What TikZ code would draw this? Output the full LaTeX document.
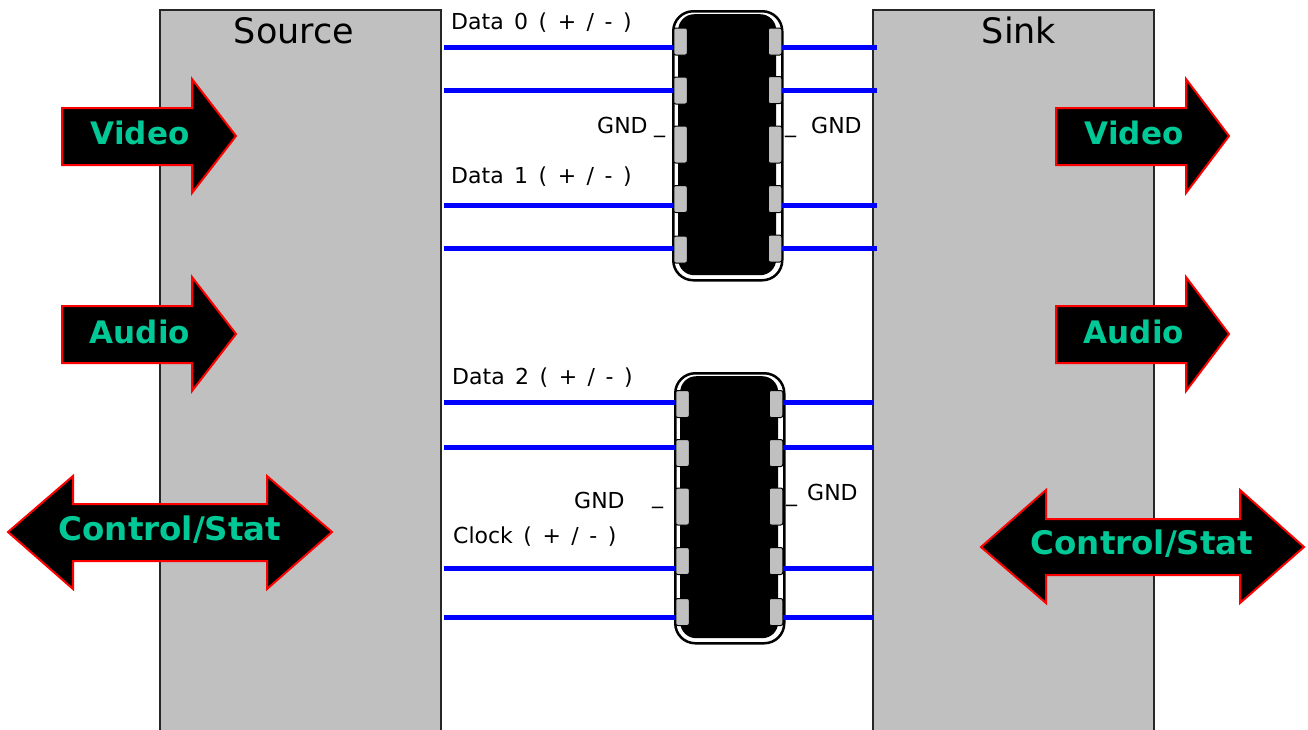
\documentclass[tikz,border=0pt]{standalone}
\usepackage{fontspec}
\setmainfont{DejaVu Sans}[WordSpace=1.5]
\definecolor{boxgray}{RGB}{192,192,192}
\definecolor{wireblue}{RGB}{0,0,255}
\definecolor{lblgreen}{RGB}{0,200,150}
\tikzset{
  sidebox/.style={draw=black!85, line width=1.5pt, fill=boxgray, anchor=north west, inner sep=0pt},
  chipouter/.style={draw=black, line width=2.5pt, fill=white, rounded corners=20pt, anchor=north west, inner sep=0pt},
  chipinner/.style={fill=black, rounded corners=16pt, anchor=north west, inner sep=0pt},
  pinbox/.style={draw=black, line width=1pt, fill=boxgray, rounded corners=2pt, minimum width=13.5pt, inner sep=0pt},
  wire/.style={draw=wireblue, line width=5pt},
  bigarrow/.style={fill=black, draw=red, line width=2pt, line join=miter},
  arrowtext/.style={text=lblgreen, font=\bfseries\fontsize{31}{36}\selectfont, inner sep=0pt},
  sigtext/.style={font=\fontsize{22}{26}\selectfont, anchor=base west, inner sep=0pt},
  titletext/.style={font=\fontsize{35}{40}\selectfont, anchor=base, inner sep=0pt},
}
\begin{document}
\begin{tikzpicture}[x=1pt,y=-1pt]
\useasboundingbox (0,0) rectangle (1308,729);
\clip (0,0) rectangle (1308,729);
\fill[white] (0,0) rectangle (1308,729);

% side boxes
\node[sidebox, minimum width=281pt, minimum height=760pt] (src) at (159,9) {};
\node[sidebox, minimum width=281pt, minimum height=760pt] (snk) at (872,9) {};
\node[titletext] (srctitle) at (294,43) {Source};
\node[titletext] (snktitle) at (1019,43) {Sink};

% chips
\node[chipouter, minimum width=109pt, minimum height=269pt] (chipA) at (672,10) {};
\node[chipinner, minimum width=98pt, minimum height=261pt] (chipAin) at (678,14) {};
\node[chipouter, minimum width=109pt, minimum height=270pt] (chipB) at (674,372) {};
\node[chipinner, minimum width=98pt, minimum height=262pt] (chipBin) at (680,376) {};

% wire end coordinates
\foreach \n/\y in {1/47,2/90,3/205,4/248}{
  \coordinate (aL\n) at (444,\y);
  \coordinate (aR\n) at (877,\y);
}
\foreach \n/\y in {1/402,2/447,3/568,4/617}{
  \coordinate (bL\n) at (444,\y);
  \coordinate (bR\n) at (874,\y);
}

% pins chip A
\node[pinbox, minimum height=27pt] (pAL1) at (680.5,41.5) {};
\node[pinbox, minimum height=27pt] (pAL2) at (680.5,90.5) {};
\node[pinbox, minimum height=37pt] (pAL3) at (680.5,144.5) {};
\node[pinbox, minimum height=27pt] (pAL4) at (680.5,199) {};
\node[pinbox, minimum height=27pt] (pAL5) at (680.5,249.5) {};
\node[pinbox, minimum height=27pt] (pAR1) at (775,41.5) {};
\node[pinbox, minimum height=27pt] (pAR2) at (775,90) {};
\node[pinbox, minimum height=37pt] (pAR3) at (775,144.5) {};
\node[pinbox, minimum height=27pt] (pAR4) at (775,199) {};
\node[pinbox, minimum height=27pt] (pAR5) at (775,248.5) {};
% pins chip B
\node[pinbox, minimum height=27pt] (pBL1) at (682.5,404) {};
\node[pinbox, minimum height=27pt] (pBL2) at (682.5,453) {};
\node[pinbox, minimum height=37pt] (pBL3) at (682.5,506.5) {};
\node[pinbox, minimum height=27pt] (pBL4) at (682.5,561) {};
\node[pinbox, minimum height=27pt] (pBL5) at (682.5,612) {};
\node[pinbox, minimum height=27pt] (pBR1) at (776,404) {};
\node[pinbox, minimum height=27pt] (pBR2) at (776,453) {};
\node[pinbox, minimum height=37pt] (pBR3) at (776,506.5) {};
\node[pinbox, minimum height=27pt] (pBR4) at (776,561) {};
\node[pinbox, minimum height=27pt] (pBR5) at (776,612) {};

% wires
\draw[wire] (aL1) -- (aL1 -| pAL1.west);
\draw[wire] (aL2) -- (aL2 -| pAL2.west);
\draw[wire] (aL3) -- (aL3 -| pAL4.west);
\draw[wire] (aL4) -- (aL4 -| pAL5.west);
\draw[wire] (aR1 -| pAR1.east) -- (aR1);
\draw[wire] (aR2 -| pAR2.east) -- (aR2);
\draw[wire] (aR3 -| pAR4.east) -- (aR3);
\draw[wire] (aR4 -| pAR5.east) -- (aR4);
\draw[wire] (bL1) -- (bL1 -| pBL1.west);
\draw[wire] (bL2) -- (bL2 -| pBL2.west);
\draw[wire] (bL3) -- (bL3 -| pBL4.west);
\draw[wire] (bL4) -- (bL4 -| pBL5.west);
\draw[wire] (bR1 -| pBR1.east) -- (bR1);
\draw[wire] (bR2 -| pBR2.east) -- (bR2);
\draw[wire] (bR3 -| pBR4.east) -- (bR3);
\draw[wire] (bR4 -| pBR5.east) -- (bR4);

% signal labels
\node[sigtext] (d0) at (451,29) {Data 0 ( + / - )};
\node[sigtext] (d1) at (451,183) {Data 1 ( + / - )};
\node[sigtext] (d2) at (452,384) {Data 2 ( + / - )};
\node[sigtext] (clk) at (453,543) {Clock ( + / - )};
\node[sigtext] (gA1) at (597,133) {GND};
\node[sigtext] (uA1) at (654,132) {\_};
\node[sigtext] (uA2) at (785,132) {\_};
\node[sigtext] (gA2) at (811,133) {GND};
\node[sigtext] (gB1) at (574,508) {GND};
\node[sigtext] (uB1) at (652,503) {\_};
\node[sigtext] (uB2) at (786,501) {\_};
\node[sigtext] (gB2) at (807,500) {GND};

% big arrows
\draw[bigarrow] (62,108) -- (192,108) -- (192,79) -- (236,136) -- (192,193) -- (192,165) -- (62,165) -- cycle;
\draw[bigarrow] (62,306) -- (192,306) -- (192,277) -- (236,334) -- (192,391) -- (192,363) -- (62,363) -- cycle;
\draw[bigarrow] (1056,108) -- (1186,108) -- (1186,79) -- (1229,136) -- (1186,193) -- (1186,165) -- (1056,165) -- cycle;
\draw[bigarrow] (1056,306) -- (1186,306) -- (1186,277) -- (1229,334) -- (1186,391) -- (1186,363) -- (1056,363) -- cycle;
\draw[bigarrow] (8,532) -- (73,476) -- (73,504) -- (267,504) -- (267,476) -- (332,532) -- (267,589) -- (267,561) -- (73,561) -- (73,589) -- cycle;
\draw[bigarrow] (981,547) -- (1046,490) -- (1046,519) -- (1240,519) -- (1240,490) -- (1304,547) -- (1240,603) -- (1240,575) -- (1046,575) -- (1046,603) -- cycle;

\node[arrowtext] (vidL) at (140,133) {Video};
\node[arrowtext] (audL) at (140,332) {Audio};
\node[arrowtext, font=\bfseries\fontsize{32.5}{38}\selectfont] (ctlL) at (170,530) {Control/Stat};
\node[arrowtext] (vidR) at (1134,133) {Video};
\node[arrowtext] (audR) at (1134,332) {Audio};
\node[arrowtext, font=\bfseries\fontsize{32.5}{38}\selectfont] (ctlR) at (1142,544) {Control/Stat};
\end{tikzpicture}
\end{document}
